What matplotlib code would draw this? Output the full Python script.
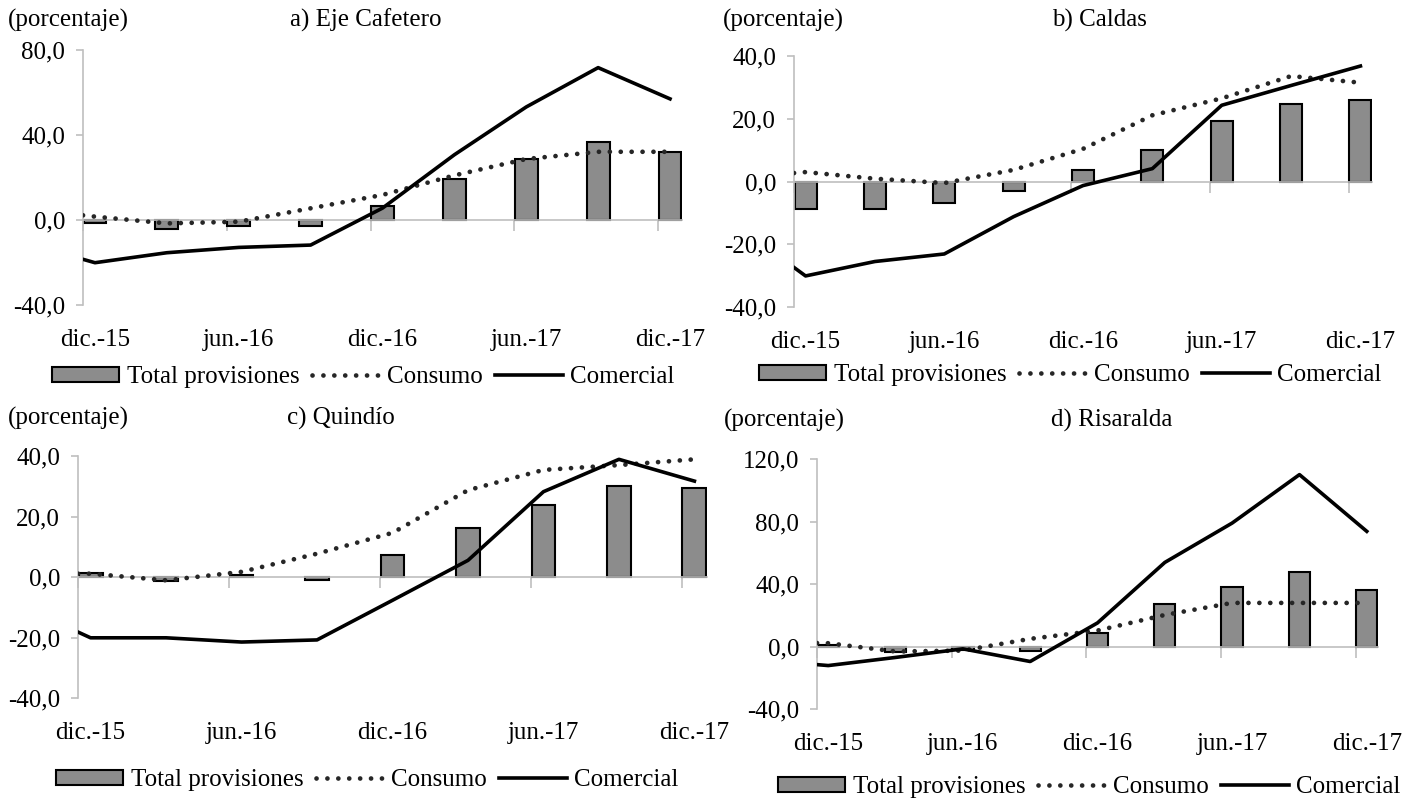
import matplotlib
matplotlib.use('Agg')
import matplotlib.pyplot as plt
import numpy as np

plt.rcParams['font.family'] = ['Liberation Serif', 'DejaVu Serif']

# Datos (variación anual, porcentaje)
trimestres = ['dic.-15', 'mar.-16', 'jun.-16', 'sep.-16', 'dic.-16',
              'mar.-17', 'jun.-17', 'sep.-17', 'dic.-17']
etiquetas_x = ['dic.-15', 'jun.-16', 'dic.-16', 'jun.-17', 'dic.-17']

# a) Eje Cafetero  (las líneas llevan un primer valor al inicio del eje)
total_a = [-1.6, -4.4, -2.7, -2.7, 6.7, 19.3, 28.6, 36.6, 32.1]
consumo_a = [2.2, 1.6, -1.6, -0.8, 5.5, 11.8, 21.0, 28.7, 32.1, 32.1]
comercial_a = [-18.5, -20.1, -15.4, -12.9, -11.8, 5.6, 30.7, 53.2, 71.7, 57.0]

# b) Caldas
total_b = [-8.7, -8.7, -6.9, -3.1, 3.7, 9.9, 19.3, 24.7, 26.1]
consumo_b = [2.7, 3.0, 0.9, -0.5, 3.7, 10.4, 21.1, 26.5, 33.6, 31.5]
comercial_b = [-27.4, -30.1, -25.5, -23.1, -11.2, -1.3, 4.1, 24.3, 30.6, 36.8]

# c) Quindío
total_c = [1.3, -1.4, 0.7, -0.9, 7.2, 16.2, 23.8, 30.2, 29.5]
consumo_c = [1.1, 1.1, -1.1, 1.7, 7.7, 14.6, 28.7, 35.4, 37.0, 38.9]
comercial_c = [-18.2, -20.1, -20.1, -21.5, -20.8, -7.7, 5.5, 28.2, 38.9, 31.7]

# d) Risaralda
total_d = [1.0, -3.6, -2.1, -2.6, 8.7, 27.3, 37.8, 47.4, 36.3]
consumo_d = [2.2, 2.1, -3.2, -2.6, 4.9, 10.2, 20.2, 27.9, 27.9, 27.9]
comercial_d = [-11.6, -12.2, -7.0, -1.5, -9.6, 15.1, 53.8, 79.0, 110.0, 73.7]

paneles = [
    # titulo, total, consumo, comercial, yticks, caja (izq, der, arriba, abajo px),
    # posicion del titulo, de "(porcentaje)" y de la leyenda
    ('a) Eje Cafetero', total_a, consumo_a, comercial_a, [-40, 0, 40, 80],
     (83, 682, 50, 305), (366, 20), (8, 20), (363, 377)),
    ('b) Caldas', total_b, consumo_b, comercial_b, [-40, -20, 0, 20, 40],
     (794, 1372, 56, 307), (1099, 20), (723, 20), (1070, 375)),
    ('c) Quindío', total_c, consumo_c, comercial_c, [-40, -20, 0, 20, 40],
     (78, 707, 456, 698), (341, 418), (8, 418), (367, 780)),
    ('d) Risaralda', total_d, consumo_d, comercial_d, [-40, 0, 40, 80, 120],
     (817, 1378, 459, 709), (1112, 420), (724, 420), (1089, 787)),
]

W, H = 1422, 798
fig = plt.figure(figsize=(W / 100, H / 100), dpi=100)

meses = np.arange(len(trimestres)) * 3
pos_etiquetas = np.array([trimestres.index(e) * 3 for e in etiquetas_x])
gris = '#bfbfbf'

for titulo, total, consumo, comercial, yticks, caja, pt, pp, pl in paneles:
    l, r, t, b = caja
    ax = fig.add_axes([l / W, 1 - b / H, (r - l) / W, (b - t) / H])
    ax.set_xlim(-0.5, meses[-1] + 0.5)
    ax.set_ylim(yticks[0], yticks[-1])
    x_lin = np.concatenate([[ax.get_xlim()[0]], meses])

    barras = ax.bar(meses, total, width=0.95, color='#8c8c8c',
                    edgecolor='black', linewidth=1.5, zorder=2)
    l_cons, = ax.plot(x_lin, consumo, color='#262626', lw=3.4,
                      linestyle=(0, (0.01, 2.3)), dash_capstyle='round', zorder=3)
    l_com, = ax.plot(x_lin, comercial, color='black', lw=2.6, zorder=4)

    for s in ['top', 'right']:
        ax.spines[s].set_visible(False)
    ax.spines['left'].set_color(gris)
    ax.spines['left'].set_linewidth(1.2)
    ax.spines['bottom'].set_position(('data', 0))
    ax.spines['bottom'].set_color(gris)
    ax.spines['bottom'].set_linewidth(1.2)

    ax.set_yticks(yticks)
    ax.set_yticklabels([f'{v:.1f}'.replace('.', ',') for v in yticks])
    ax.tick_params(axis='y', colors=gris, labelcolor='black', length=5,
                   width=1.2, labelsize=18, pad=8)
    ax.set_xticks(pos_etiquetas - 0.5)
    ax.tick_params(axis='x', colors=gris, length=8, width=1.2, labelbottom=False)

    sec = ax.secondary_xaxis(0.0)
    sec.set_xticks(pos_etiquetas)
    sec.set_xticklabels(etiquetas_x)
    sec.tick_params(length=0, labelsize=18, pad=17)
    sec.spines['bottom'].set_visible(False)

    fig.text(pt[0] / W, 1 - pt[1] / H, titulo, ha='center', va='center', fontsize=18)
    fig.text(pp[0] / W, 1 - pp[1] / H, '(porcentaje)', ha='left', va='center', fontsize=18)

    ax.legend([barras, l_cons, l_com], ['Total provisiones', 'Consumo', 'Comercial'],
              loc='center', bbox_to_anchor=(pl[0] / W, 1 - pl[1] / H),
              bbox_transform=fig.transFigure, ncol=3, frameon=False,
              fontsize=18, handlelength=2.7, handleheight=0.55,
              handletextpad=0.3, columnspacing=0.5, borderpad=0)

fig.savefig('out.png', dpi=100)
